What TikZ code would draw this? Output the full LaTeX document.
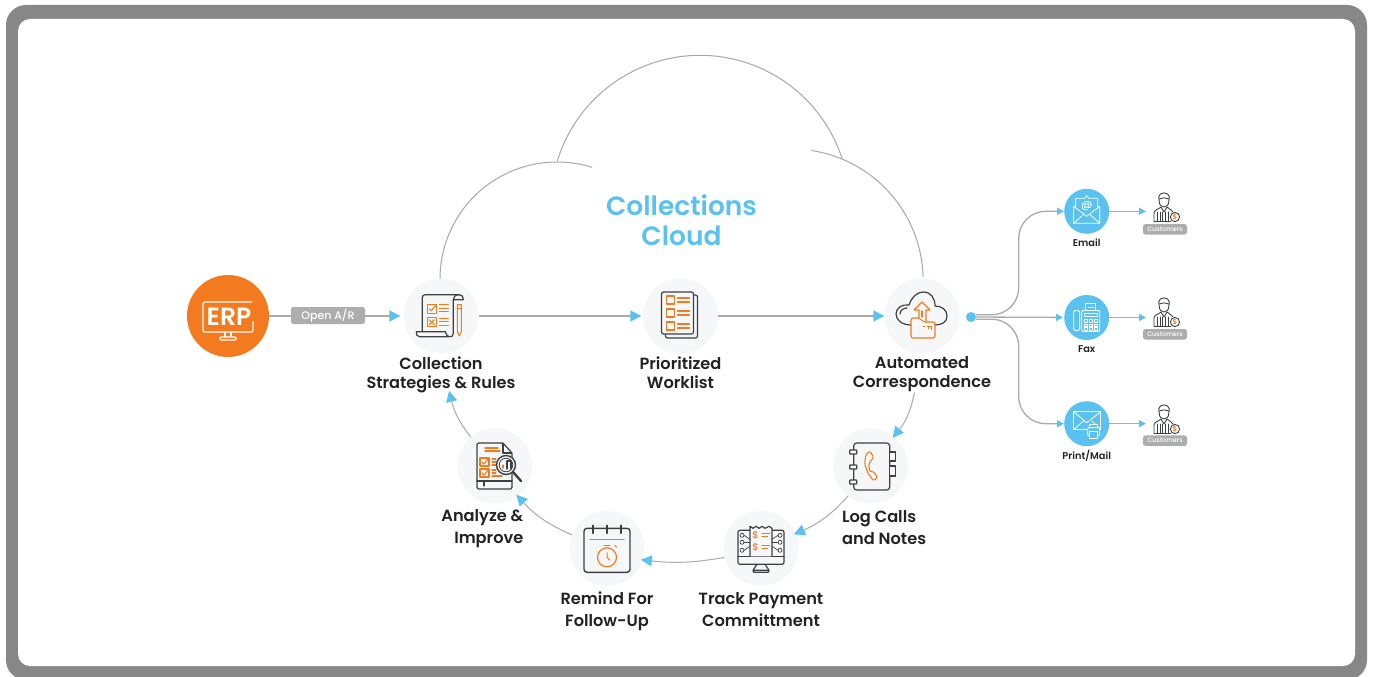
\documentclass[tikz,border=0pt]{standalone}
\usepackage{fontspec}
\setmainfont{Poppins}[UprightFont={* Medium},BoldFont={* SemiBold}]
\usetikzlibrary{arrows.meta}
\definecolor{framegray}{HTML}{878787}
\definecolor{linegray}{HTML}{ABABAB}
\definecolor{cloudgray}{HTML}{A8A8A8}
\definecolor{pillgray}{HTML}{ADADAD}
\definecolor{softgray}{HTML}{F6F7F9}
\definecolor{skyblue}{HTML}{5BC2F0}
\definecolor{erporange}{HTML}{F47A20}
\definecolor{icondark}{HTML}{3D4043}
\definecolor{textdark}{HTML}{222222}
\tikzset{
  x=1pt,y=-1pt,
  blue tip/.style={-{Triangle[length=11pt,width=11pt,color=skyblue]}},
  small tip/.style={-{Triangle[length=7pt,width=7pt,color=skyblue]}},
  flowmain/.style={draw=linegray,line width=1.8pt,blue tip},
  flowloop/.style={draw=linegray,line width=1pt,blue tip,shorten >=-2pt},
  flowfan/.style={draw=linegray,line width=1.3pt,small tip,rounded corners=27pt},
  stepcircle/.style={circle,fill=softgray,minimum size=75pt,inner sep=0pt},
  channel/.style={circle,fill=skyblue,minimum size=45pt,inner sep=0pt},
  steplabel/.style={text=textdark,font=\bfseries\fontsize{16.2}{19}\selectfont,align=center,inner sep=0pt},
  steplabelwide/.style={steplabel,font=\bfseries\fontsize{16.2}{22}\selectfont},
  chanlabel/.style={text=textdark,font=\bfseries\fontsize{9.8}{12}\selectfont,inner sep=0pt},
  pill/.style={fill=pillgray,rounded corners=2.5pt,text=white,inner sep=0pt},
  cloudline/.style={draw=cloudgray,line width=1pt},
  ink/.style={draw=icondark,line width=1.2pt,line join=round,line cap=round},
  ember/.style={draw=erporange,line width=1.1pt,line join=round,line cap=round},
  chalk/.style={draw=white,line width=.8pt,line join=round},
  customer/.pic={
    \draw[ink,line width=.9pt,fill=white] (-4.8,1) .. controls (-5,9) and (5,9) .. (4.8,1) -- (5.3,-3) .. controls (5,-8.5) and (-5,-8.5) .. (-5.3,-3) -- cycle;
    \draw[ink,line width=.9pt] (-4.8,-1) .. controls (-1,-2) and (2,-3) .. (4.8,-1);
    \draw[ink,line width=.9pt] (-10,21) -- (-10,13) .. controls (-10,10) and (-5,9) .. (-3,7) -- (0,12) -- (3,7) .. controls (5,9) and (8,10) .. (9,12);
    \draw[ink,line width=.9pt] (-10,21) -- (7,21);
    \foreach \xs in {-7,-4,-1.5,1.5,4}
      \draw[ink,line width=.8pt] (\xs,12) -- (\xs,21);
    \draw[ink,line width=.9pt,fill=white] (11,17) circle (4.6);
    \node[text=erporange,font=\bfseries\fontsize{7}{7}\selectfont,inner sep=0pt] at (11,17) {\$};
  }
}
\begin{document}
\begin{tikzpicture}
  \useasboundingbox (0,0) rectangle (1373,677);
  \clip (0,0) rectangle (1373,677);
  \fill[white] (0,0) rectangle (1373,677);
  \fill[framegray,rounded corners=20pt] (6,5) rectangle (1367,680);
  \fill[white,rounded corners=12pt] (18,19) rectangle (1355,666);
  % cloud
  \draw[cloudline] (440,279) arc[start angle=180,end angle=287.5,radius=117];
  \draw[cloudline] (557.3,161) arc[start angle=197,end angle=342,radius=149.3];
  \draw[cloudline] (811.5,150.5) arc[start angle=278.7,end angle=358.3,radius=131.5];
  \node[text=skyblue,font=\bfseries\fontsize{26.5}{30}\selectfont,align=center] (cloudtitle) at (681.5,220) {Collections\\Cloud};
  % steps
  \node[circle,fill=erporange,minimum size=82pt,inner sep=0pt] (erp) at (228,316) {};
  \node[stepcircle] (collect) at (441,316) {};
  \node[stepcircle] (worklist) at (680.5,316) {};
  \node[stepcircle] (automated) at (922,316) {};
  \node[stepcircle] (logcalls) at (870.7,466) {};
  \node[stepcircle] (track) at (761,548.3) {};
  \node[stepcircle] (remind) at (607,548.3) {};
  \node[stepcircle] (analyze) at (495,466) {};
  \node[steplabel] (collectlabel) at (441,374.5) {Collection\\Strategies \& Rules};
  \node[steplabel] (worklistlabel) at (680.5,372.5) {Prioritized\\Worklist};
  \node[steplabel] (automatedlabel) at (922,374.5) {Automated\\Correspondence};
  \node[steplabelwide,align=left,anchor=west] (loglabel) at (842,527.5) {Log Calls\\and Notes};
  \node[steplabelwide] (tracklabel) at (761,609.5) {Track Payment\\Committment};
  \node[steplabelwide] (remindlabel) at (607,611) {Remind For\\Follow-Up};
  \node[steplabelwide,align=right,anchor=east] (analyzelabel) at (523.5,529) {Analyze \&\\Improve};
  % channels
  \node[channel] (email) at (1086.7,211.3) {};
  \node[channel] (fax) at (1086.7,317.5) {};
  \node[channel] (print) at (1086.7,423.7) {};
  \node[chanlabel] (emaillabel) at (1086.7,243) {Email};
  \node[chanlabel] (faxlabel) at (1086.7,349.5) {Fax};
  \node[chanlabel] (printlabel) at (1086.7,455.5) {Print/Mail};
  \coordinate (emailcust) at (1164,200);
  \coordinate (faxcust) at (1164,305);
  \coordinate (printcust) at (1164,412);
  \coordinate (emailend) at (1146,211.3);
  \coordinate (faxend) at (1146,317.5);
  \coordinate (printend) at (1146,423.7);
  \foreach \who/\py in {emailcust/229.3,faxcust/334.3,printcust/440.7}{
    \pic at (\who) {customer};
    \node[pill,minimum width=44pt,minimum height=10.5pt,font=\fontsize{6.4}{7}\selectfont] (\who tag) at (1165,\py) {Customers};
  }
  % connectors
  \draw[flowmain,shorten >=3pt] (erp) -- (collect);
  \draw[flowmain,shorten >=1.5pt] (collect) -- (worklist);
  \draw[flowmain] (worklist) -- (automated);
  \node[pill,minimum width=74pt,minimum height=17pt,font=\fontsize{11}{12}\selectfont] (openar) at (328,315.5) {Open A/R};
  \draw[flowloop] (automatedlabel.-113) to[bend left=14] (logcalls.52);
  \draw[flowloop] (logcalls.-127) to[bend left=12] (track.23);
  \draw[flowloop] (track.194) to[bend left=8] (remind.-18);
  \draw[flowloop] (remind.159) to[bend left=12] (analyze.-53);
  \draw[flowloop] (analyze.130) to[bend left=12] (collectlabel.-65);
  \node[circle,fill=skyblue,minimum size=10pt,inner sep=0pt] (fan) at (971,317) {};
  \coordinate (trunk) at (1018.7,317);
  \draw[flowfan] (fan.25) -- (fan.25 -| trunk) |- (email.west);
  \draw[flowfan] (fan.-25) -- (fan.-25 -| trunk) |- (print.west);
  \draw[flowfan,shorten >=1pt] (fan) -- (fax);
  \draw[flowfan,line width=1.5pt] (email) -- (emailend);
  \draw[flowfan,line width=1.5pt] (fax) -- (faxend);
  \draw[flowfan,line width=1.5pt] (print) -- (printend);
  % ERP icon
  \begin{scope}[shift={(228,316)}]
    \draw[white,line width=1.2pt,rounded corners=1.5pt] (24,-14) -- (-25,-14) -- (-25,16) -- (25,16) -- (25,5);
    \draw[white,line width=1.2pt] (-3,16) -- (-3,21) (3,16) -- (3,21);
    \draw[white,line width=1.2pt,rounded corners=1pt] (-8,21) rectangle (8,24);
    \node[text=white,font=\bfseries\fontsize{25}{25}\selectfont,inner sep=0pt] (erptext) at (1,1) {ERP};
  \end{scope}
  % strategies icon
  \begin{scope}[shift={(440.3,315.7)}]
    \draw[ink] (-18,15) -- (-18,-18) .. controls (-18,-20) and (-17,-21) .. (-15,-21) -- (19,-21) .. controls (22,-21) and (23,-19) .. (23,-16) -- (13,-16) -- (13,18) .. controls (13,21) and (11,21) .. (9,21) -- (-21,21) .. controls (-24,21) and (-24,18) .. (-24,16) -- (5,16) .. controls (6,19) and (7,21) .. (9,21);
    \draw[ink] (13,-16) .. controls (13,-19) and (15,-21) .. (19,-21);
    \draw[ember] (-13,-11) rectangle (-4,-2.5);
    \draw[ember] (-13,2) rectangle (-4,11);
    \draw[ember] (-11,-7) -- (-9,-5) -- (-4,-11);
    \draw[ember] (-11,4) -- (-6,9) (-6,4) -- (-11,9);
    \foreach \ly in {-11,-7.5,-4,2.5,6,9.5}
      \draw[ember] (-1,\ly) -- (8,\ly);
    \draw[ember] (17,-11) -- (21,-11) -- (21,16) -- (19,20) -- (17,16) -- cycle;
    \draw[ember] (17,-7) -- (21,-7);
  \end{scope}
  % worklist icon
  \begin{scope}[shift={(680.5,316)}]
    \draw[ink,rounded corners=2pt] (14,-21) -- (17,-21) -- (17,22) -- (-15,22) -- (-15,18);
    \draw[ink,rounded corners=2pt,fill=softgray] (-19,-24) rectangle (13,18);
    \foreach \by in {-20,-7,6}{
      \draw[ember] (-14,\by) rectangle ++(8,8);
      \draw[ember] (-3,\by+2) -- (9,\by+2) (-3,\by+6) -- (9,\by+6);
    }
  \end{scope}
  % correspondence icon
  \begin{scope}[shift={(922,316)}]
    \draw[ink] (-11,9) .. controls (-20,9) and (-26,4) .. (-26,-2) .. controls (-26,-8) and (-20,-12) .. (-13,-11) .. controls (-11,-18) and (-5,-24) .. (1,-24) .. controls (9,-24) and (13,-18) .. (13,-10) .. controls (20,-10) and (25,-6) .. (25,0) .. controls (25,6) and (20,9) .. (13,9);
    \draw[ink] (-22,-2) .. controls (-22,-6) and (-18,-8) .. (-15,-8);
    \draw[ember,rounded corners=2pt] (-11,22) -- (-11,2) -- (-2,2) -- (1,6) -- (13,6) -- (13,22) -- cycle;
    \draw[ember] (-3,2) -- (-3,-6) -- (-8,-6) -- (0,-14) -- (8,-6) -- (4,-6) -- (4,6);
    \draw[ember] (0,-5) -- (0,1);
    \draw[ember,line width=.7pt] (1,10) -- (3,10) (5,10) -- (9,10) -- (9,14) (6.5,10) -- (6.5,13);
  \end{scope}
  % log calls icon
  \begin{scope}[shift={(870.7,466)}]
    \draw[ink,rounded corners=3pt] (-17,-23) rectangle (19,24);
    \draw[ink,fill=softgray] (19,-14) rectangle (25,-5);
    \draw[ink,fill=softgray] (19,0) rectangle (25,10);
    \foreach \ry in {-16,-1,14}
      \draw[ink,fill=softgray,rounded corners=.5pt] (-21,\ry) rectangle (-14,\ry+4);
    \draw[ember,rounded corners=1.5pt] (-1,-15) -- (-5,-11) -- (-6,-2) -- (-3,7) -- (3,15) -- (7,11) -- (2,5) -- (-1,6) -- (-2,-2) -- (0,-5) -- (3,-9) -- cycle;
  \end{scope}
  % payment icon
  \begin{scope}[shift={(761,548.3)}]
    \draw[ink,rounded corners=2pt] (-23,-18) rectangle (23,16);
    \draw[ink] (-23,8) -- (23,8);
    \draw[ink] (-8,22) -- (-4,16) (8,22) -- (4,16);
    \draw[ink,rounded corners=1pt] (-8,22) rectangle (8,24);
    \draw[ink,fill=softgray] (-11,8) -- (-11,-22) -- (-8,-20) -- (-5,-22) -- (-2,-20) -- (1,-22) -- (4,-20) -- (8,-22) -- (11,-20) -- (11,8);
    \foreach \sy in {-13,-1}{
      \node[text=erporange,font=\fontsize{9.5}{10}\selectfont,inner sep=0pt] at (-5.5,\sy) {\$};
      \draw[ember] (1,\sy-1.5) -- (8.5,\sy-1.5) (1,\sy+1.5) -- (6.5,\sy+1.5);
    }
    \foreach \sd in {-1,1}{
      \foreach \cy/\ey in {-13/-9,-6/-6,2/-2}{
        \draw[ink,line width=.7pt] (\sd*19,\cy) circle (2);
        \draw[ink,line width=.7pt] (\sd*17,\cy) -- (\sd*11,\ey);
      }
    }
  \end{scope}
  % remind icon
  \begin{scope}[shift={(607,548.3)}]
    \draw[ink,line width=1.4pt,rounded corners=3pt] (-23,-20) rectangle (23,24);
    \foreach \tx in {-14,0,14}
      \draw[ink,line width=1.4pt] (\tx,-23) -- (\tx,-15);
    \draw[ember,line width=1.2pt] (-17,-9) -- (17,-9);
    \draw[ember,line width=1.2pt] (0,9) circle (9.5);
    \draw[ember] (-3,-2.7) -- (3,-2.7) (8,-3) -- (9.5,-1);
    \draw[erporange,line width=1pt] (0,4) -- (0,9) -- (3,12);
  \end{scope}
  % analyze icon
  \begin{scope}[shift={(495,466)}]
    \draw[ink,rounded corners=1.5pt] (8,-23) -- (-18,-23) -- (-18,23) -- (17,23) -- (17,-13) -- cycle;
    \draw[ink] (8,-23) -- (8,-13) -- (17,-13);
    \draw[ink] (-18,15) -- (-11,15) -- (-11,20) (-11,15) -- (17,15);
    \draw[ember] (-10,-18) -- (3,-18) (-10,-15) -- (5,-15);
    \foreach \cy in {-8,3}{
      \draw[ember] (-15,\cy) rectangle (-6,\cy+8);
      \draw[ember] (-13,\cy+4) -- (-11,\cy+6) -- (-7,\cy+1);
      \draw[ember] (-3,\cy+1) -- (1,\cy+1) (-3,\cy+4) -- (1,\cy+4) (-3,\cy+7) -- (7,\cy+7);
    }
    \draw[ink,line width=2.4pt] (18,6) -- (26,15);
    \draw[ink,line width=1.4pt,fill=softgray] (11,-1) circle (9.5);
    \draw[ink,line width=.8pt] (11,-1) circle (6.8);
    \draw[ember] (8,2) -- (8,-1);
    \draw[ink,fill=softgray] (12,3) -- (12,-5) -- (16,-5) -- (16,3);
  \end{scope}
  % email icon
  \begin{scope}[shift={(1086.7,211.3)}]
    \draw[chalk] (-11,-4) -- (-11,-13) -- (-2,-13) -- (0,-16) -- (2,-13) -- (11,-13) -- (11,-4);
    \draw[chalk] (-13,-5) -- (-13,12) -- (13,12) -- (13,-5) -- (0,5) -- cycle;
    \draw[chalk] (-13,12) -- (-3,3) (13,12) -- (3,3);
    \node[text=white,font=\fontsize{11}{11}\selectfont,inner sep=0pt] at (0,-5.5) {@};
  \end{scope}
  % fax icon
  \begin{scope}[shift={(1086.7,317.5)}]
    \draw[chalk,rounded corners=1.5pt] (-13,-7) rectangle (-7,13);
    \draw[chalk,rounded corners=1pt] (-5,-7) rectangle (13,14);
    \draw[chalk] (-1,-7) -- (-1,-14) -- (9,-14) -- (9,-7);
    \draw[chalk] (1,-10) -- (7,-10);
    \draw[chalk] (-2,-4) rectangle (11,-1);
    \foreach \kx in {-2,3,8}
      \foreach \ky in {2,6.5,10}
        \draw[chalk,line width=.6pt] (\kx,\ky) rectangle ++(2.5,2.5);
  \end{scope}
  % print icon
  \begin{scope}[shift={(1086.7,423.7)}]
    \draw[chalk] (-13,-12) rectangle (14,6);
    \draw[chalk] (-13,-12) -- (0,-1) -- (14,-12);
    \draw[chalk] (-13,6) -- (-3,-3) (14,6) -- (5,-3);
    \draw[chalk,fill=skyblue,rounded corners=1pt] (1,4) rectangle (13,12);
    \draw[chalk,fill=skyblue] (3,1) rectangle (11,4);
    \draw[chalk,fill=skyblue] (3,8) rectangle (11,15);
  \end{scope}
\end{tikzpicture}
\end{document}
